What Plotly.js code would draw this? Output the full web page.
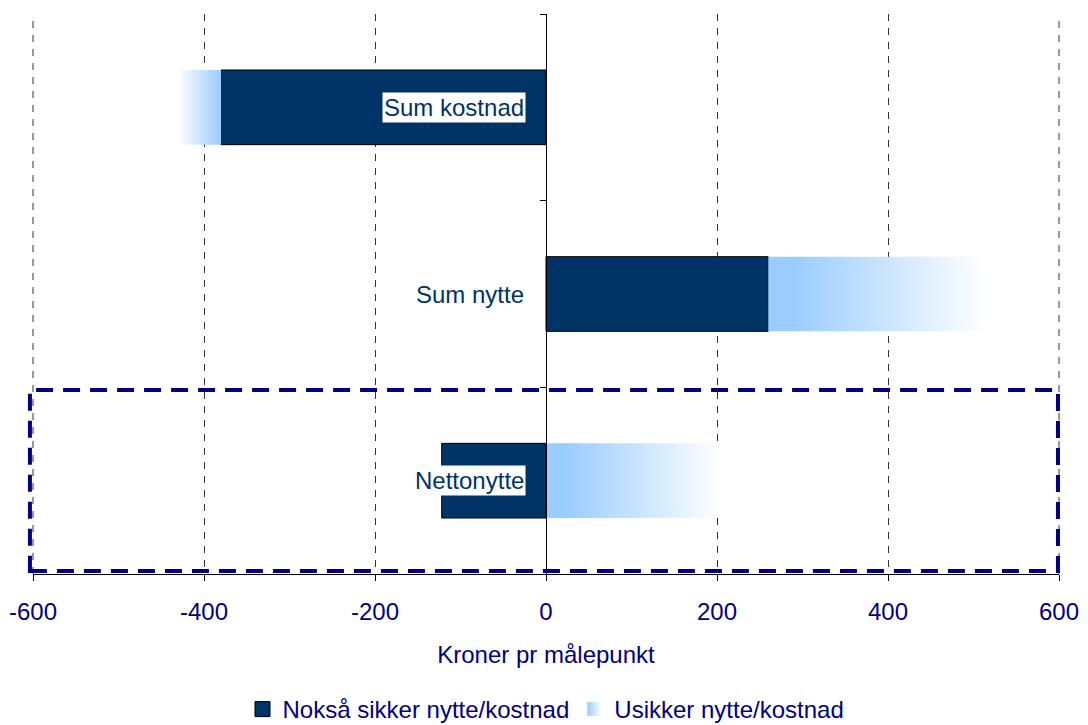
<!DOCTYPE html>
<html>
<head>
<meta charset="utf-8">
<script src="https://cdn.plot.ly/plotly-3.0.1.min.js"></script>
<style>html,body{margin:0;padding:0;background:#fff;}#chart{width:1088px;height:725px;}</style>
</head>
<body>
<div id="chart"></div>
<script>
// ---- data ----
const categories = ["Sum kostnad", "Sum nytte", "Nettonytte"];
const categoryPos = [2, 1, 0];              // slot on the value axis (top to bottom)
const sureValues = [-380, 260, -122];        // "Nokså sikker nytte/kostnad"
const uncertainFrom = [-380, 260, 0];        // start of "Usikker nytte/kostnad"
const uncertainTo = [-430, 515, 205];        // end of "Usikker nytte/kostnad" (fades out)
const xTicks = [-600, -400, -200, 0, 200, 400, 600];
const xTickLabels = ["-600", "-400", "-200", "0", "200", "400", "600"];
const seriesNames = ["Nokså sikker nytte/kostnad", "Usikker nytte/kostnad"];
const axisTitle = "Kroner pr målepunkt";
const highlighted = "Nettonytte";

// ---- styling ----
const FONT = "Liberation Sans, Arial, sans-serif";
const NAVY = "#000080";
const DARK = "#003366";
const LIGHT = "#99ccff";
const BAR_W = 0.4;
const GRID_DASH = "7px,7px";

const traces = [];
traces.push({
  type: "bar",
  orientation: "h",
  name: seriesNames[0],
  x: sureValues,
  y: categoryPos,
  width: BAR_W,
  marker: {color: DARK, line: {color: "#000000", width: 1}},
  hoverinfo: "skip",
  showlegend: false
});

categories.forEach((c, i) => {
  const a = uncertainFrom[i], b = uncertainTo[i];
  const lo = Math.min(a, b), hi = Math.max(a, b);
  const p = categoryPos[i];
  const cs = (a < b)
    ? [[0, LIGHT], [0.1, LIGHT], [1, "rgba(255,255,255,1)"]]
    : [[0, "rgba(255,255,255,1)"], [1, LIGHT]];
  traces.push({
    type: "scatter",
    mode: "none",
    name: seriesNames[1],
    x: [lo, hi, hi, lo, lo],
    y: [p - BAR_W / 2, p - BAR_W / 2, p + BAR_W / 2, p + BAR_W / 2, p - BAR_W / 2],
    fill: "toself",
    fillgradient: {type: "horizontal", colorscale: cs},
    hoverinfo: "skip",
    showlegend: false
  });
});

// legend entries
traces.push({
  type: "scatter", mode: "markers", name: seriesNames[0],
  x: [null], y: [null],
  marker: {symbol: "square", size: 15, color: DARK, line: {color: "#000000", width: 1}},
  hoverinfo: "skip", showlegend: true
});
traces.push({
  type: "scatter", mode: "markers", name: seriesNames[1],
  x: [null], y: [null],
  marker: {symbol: "square", size: 14, color: LIGHT, line: {width: 0},
           gradient: {type: "horizontal", color: "#ffffff"}},
  hoverinfo: "skip", showlegend: true
});

const annotations = categories.map((c, i) => ({
  x: 0, y: categoryPos[i], xref: "x", yref: "y",
  text: c, showarrow: false, xanchor: "right", yanchor: "middle",
  xshift: -20, bgcolor: "#ffffff", borderpad: 1,
  font: {family: FONT, size: 24, color: DARK}
}));

const hp = categoryPos[categories.indexOf(highlighted)];

const layout = {
  width: 1088, height: 725,
  margin: {l: 33, r: 29, t: 14, b: 151, autoexpand: false},
  paper_bgcolor: "#ffffff", plot_bgcolor: "#ffffff",
  font: {family: FONT, size: 24, color: NAVY},
  showlegend: true,
  barmode: "overlay",
  xaxis: {
    range: [-600, 600],
    tickvals: xTicks, ticktext: xTickLabels,
    showgrid: true, gridcolor: "#333333", gridwidth: 1, griddash: GRID_DASH,
    zeroline: false,
    showline: true, linecolor: "#000000", linewidth: 1,
    ticks: "outside", ticklen: 6, tickcolor: "#000000",
    ticklabelstandoff: 10,
    tickfont: {family: FONT, size: 24, color: NAVY},
    title: {text: axisTitle, font: {family: FONT, size: 24, color: NAVY}, standoff: 22},
    automargin: false,
    fixedrange: true
  },
  yaxis: {
    range: [-0.5, 2.5],
    anchor: "free", position: 0.5,
    tickvals: [-0.5, 0.5, 1.5, 2.5],
    showticklabels: false,
    ticks: "outside", ticklen: 6, tickcolor: "#000000",
    showgrid: false, zeroline: false,
    showline: true, linecolor: "#000000", linewidth: 1,
    automargin: false,
    fixedrange: true
  },
  shapes: [
    {type: "line", xref: "paper", yref: "paper", x0: 0, x1: 0, y0: 0, y1: 1,
     line: {color: "#333333", width: 1, dash: GRID_DASH}, layer: "below"},
    {type: "line", xref: "paper", yref: "paper", x0: 1, x1: 1, y0: 0, y1: 1,
     line: {color: "#333333", width: 1, dash: GRID_DASH}, layer: "below"},
    {type: "rect", xref: "paper", yref: "y",
     x0: -0.003, x1: 0.999, y0: hp - 0.484, y1: hp + 0.486,
     line: {color: NAVY, width: 4, dash: "17px,10px"},
     fillcolor: "rgba(0,0,0,0)", layer: "above"}
  ],
  annotations: annotations,
  legend: {
    orientation: "h", x: 0.5, xanchor: "center", y: -0.242, yanchor: "middle",
    font: {family: FONT, size: 24, color: NAVY},
    bgcolor: "rgba(0,0,0,0)", traceorder: "normal"
  }
};

Plotly.newPlot("chart", traces, layout, {displayModeBar: false, staticPlot: true});
</script>
</body>
</html>
